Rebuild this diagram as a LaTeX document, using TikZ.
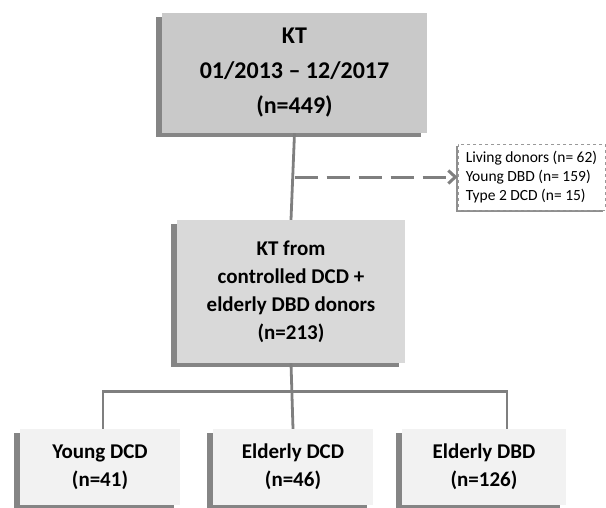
\documentclass[tikz,border=0pt]{standalone}
\usepackage{fontspec}
\setmainfont{Carlito}
\usetikzlibrary{shadows,arrows.meta}
\definecolor{boxdark}{HTML}{C9C9C9}
\definecolor{boxmid}{HTML}{D9D9D9}
\definecolor{boxlight}{HTML}{F2F2F2}
\definecolor{linegray}{HTML}{7F7F7F}
\begin{document}
\begin{tikzpicture}[x=1pt, y=1pt,
    box/.style={rectangle, align=center, font=\bfseries\fontsize{21}{28}\selectfont,
      drop shadow={shadow xshift=-6pt, shadow yshift=-4pt, fill=black!60, opacity=.8}},
    link/.style={draw=linegray, line width=2.8pt}]
    \useasboundingbox (0, 0) rectangle (606, -507);
    \node[box, fill=boxdark, minimum width=265, minimum height=120,
      font=\bfseries\fontsize{24}{35}\selectfont] (kt) at (294.5, -73)
      {KT\\01/2013 -- 12/2017\\(n=449)};
    \node[box, fill=boxmid, minimum width=228, minimum height=143] (sel) at (291, -291.5)
      {KT from\\controlled DCD +\\elderly DBD donors\\(n=213)};
    \node[rectangle, fill=white, draw=black!40, dashed, line width=1pt, align=left,
      minimum width=147, minimum height=66, inner sep=4pt, font=\fontsize{15.5}{19}\selectfont,
      drop shadow={shadow xshift=-2pt, shadow yshift=-2pt, fill=black!55, opacity=.8}]
      (excl) at (531.5, -177)
      {Living donors (n= 62)\\Young DBD (n= 159)\\Type 2 DCD (n= 15)};
    \node[box, fill=boxlight, minimum width=160, minimum height=76] (ydcd) at (100, -467)
      {Young DCD\\(n=41)};
    \node[box, fill=boxlight, minimum width=160, minimum height=76] (edcd) at (293, -467)
      {Elderly DCD\\(n=46)};
    \node[box, fill=boxlight, minimum width=164, minimum height=76] (edbd) at (484, -467)
      {Elderly DBD\\(n=126)};
    % connectors
    \coordinate (split) at (kt.south |- excl.west);
    \draw[link] (kt.south) -- (sel.north);
    \draw[link, line width=3pt, dash pattern=on 23pt off 9pt,
      -{Straight Barb[length=7pt, width=13pt]}] (split) -- (excl.west);
    \draw[link] (sel.south) -- (edcd.north);
    \draw[link] ([xshift=3pt]ydcd.north) -- ++(0, 37) -| ([xshift=23pt]edbd.north);
\end{tikzpicture}
\end{document}
